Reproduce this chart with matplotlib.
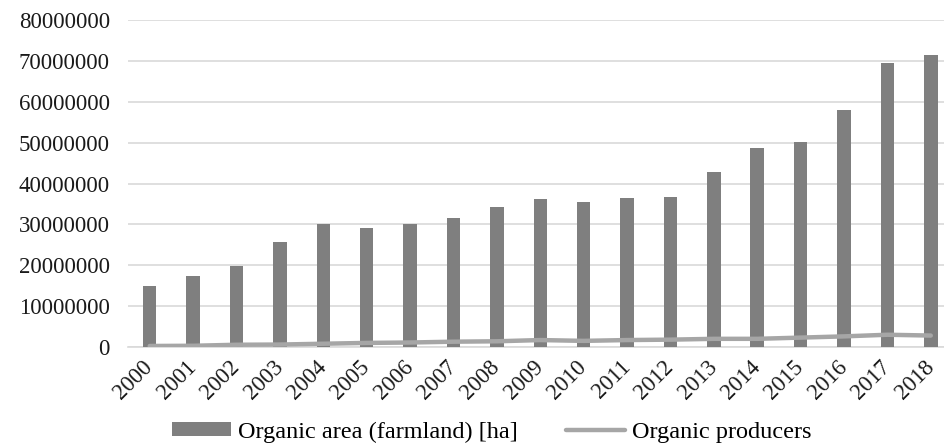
import matplotlib.pyplot as plt
import numpy as np

# Дані
years = ['2000', '2001', '2002', '2003', '2004', '2005', '2006', '2007', '2008', '2009',
         '2010', '2011', '2012', '2013', '2014', '2015', '2016', '2017', '2018']
area = [15.0, 17.3, 19.8, 25.7, 30.0, 29.2, 30.0, 31.5, 34.3, 36.3,
        35.6, 36.5, 36.7, 42.8, 48.7, 50.1, 57.9, 69.5, 71.5]  # млн га
producers = [0.25, 0.3, 0.55, 0.6, 0.8, 1.0, 1.1, 1.3, 1.4, 1.7,
             1.5, 1.7, 1.8, 2.0, 2.0, 2.3, 2.6, 3.0, 2.8]  # млн
yticks = [0, 10000000, 20000000, 30000000, 40000000, 50000000, 60000000, 70000000, 80000000]

plt.rcParams['font.family'] = ['Liberation Serif', 'DejaVu Serif']

fig = plt.figure(figsize=(9.44, 4.43), dpi=100)
ax = fig.add_axes([0.1356, 0.2167, 0.8734, 0.738])

x = np.arange(len(years))
bars = ax.bar(x, np.array(area) * 1e6, width=0.31, color='#7f7f7f', zorder=3)
line, = ax.plot(x, np.array(producers) * 1e6, color='#a6a6a6', linewidth=3.2, zorder=4,
                solid_capstyle='round')

ax.set_xlim(-0.5, len(years) - 0.5)
ax.set_ylim(0, 80000000)
ax.set_yticks(yticks)
ax.set_yticklabels([str(v) for v in yticks], fontsize=16.5, color='#1a1a1a')
ax.set_xticks(x)
ax.set_xticklabels(years, fontsize=16.5, color='#1a1a1a', rotation=45,
                   ha='right', va='center', rotation_mode='anchor')
ax.tick_params(axis='y', length=0, pad=13)
ax.tick_params(axis='x', length=0, pad=12)

ax.grid(axis='y', color='#d9d9d9', linewidth=1.2, zorder=0)
for s in ['top', 'right', 'left']:
    ax.spines[s].set_visible(False)
ax.spines['bottom'].set_color('#d9d9d9')
ax.spines['bottom'].set_linewidth(1.2)

fig.legend([bars, line], ['Organic area (farmland) [ha]', 'Organic producers'],
           loc='center', bbox_to_anchor=(0.521, 0.025), ncol=2, frameon=False,
           fontsize=17.5, handlelength=2.4, handletextpad=0.3, columnspacing=2.0,
           handleheight=0.5)

fig.savefig('out.png', dpi=100)
